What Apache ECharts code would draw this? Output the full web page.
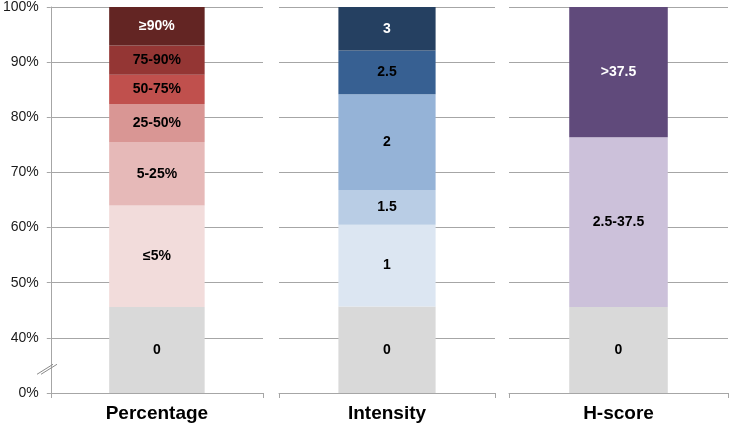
<!DOCTYPE html>
<html>
<head>
<meta charset="utf-8">
<script src="https://cdn.jsdelivr.net/npm/echarts@6/dist/echarts.min.js"></script>
<style>
html,body{margin:0;padding:0;background:#fff;}
#chart{width:729px;height:428px;}
</style>
</head>
<body>
<div id="chart"></div>
<script>
// ---- data ----
const panelTitles = ['Percentage', 'Intensity', 'H-score'];

const percentageLabels = ['0', '≤5%', '5-25%', '25-50%', '50-75%', '75-90%', '≥90%'];
const percentageValues = [45.6, 18.4, 11.5, 6.9, 5.3, 5.3, 7.0];

const intensityLabels = ['0', '1', '1.5', '2', '2.5', '3'];
const intensityValues = [45.7, 14.8, 6.3, 17.4, 7.9, 7.9];

const hscoreLabels = ['0', '2.5-37.5', '>37.5'];
const hscoreValues = [45.6, 30.8, 23.6];

// y axis: 0% followed by a break, then 40%..100%
const yTickValues = [30, 40, 50, 60, 70, 80, 90, 100];
const yTickLabels = ['0%', '40%', '50%', '60%', '70%', '80%', '90%', '100%'];

// ---- styles ----
const percentageColors = ['#d9d9d9', '#f2dcdb', '#e6b9b8', '#d99694', '#c0504d', '#943634', '#632523'];
const intensityColors = ['#d9d9d9', '#dce6f2', '#b9cde5', '#95b3d7', '#376092', '#254061'];
const hscoreColors = ['#d9d9d9', '#ccc1da', '#604a7b'];
const percentageTextColors = ['#000', '#000', '#000', '#000', '#000', '#000', '#fff'];
const intensityTextColors = ['#000', '#000', '#000', '#000', '#000', '#fff'];
const hscoreTextColors = ['#000', '#000', '#fff'];

const panels = [
  { labels: percentageLabels, values: percentageValues, colors: percentageColors, text: percentageTextColors },
  { labels: intensityLabels, values: intensityValues, colors: intensityColors, text: intensityTextColors },
  { labels: hscoreLabels, values: hscoreValues, colors: hscoreColors, text: hscoreTextColors }
];

const gridLefts = [48, 279, 509];
const gridWidths = [215, 216, 219];
const FONT = '"Liberation Sans", Arial, sans-serif';
const lineColor = '#a6a6a6';

const chart = echarts.init(document.getElementById('chart'), null, { renderer: 'canvas' });

const grids = [], xAxes = [], yAxes = [], series = [];
panels.forEach((p, i) => {
  grids.push({ left: gridLefts[i], width: gridWidths[i], top: 7, height: 386, containLabel: false });
  xAxes.push({
    type: 'category', gridIndex: i, data: [panelTitles[i]],
    axisLine: { show: true, lineStyle: { color: lineColor, width: 1 } },
    axisTick: { show: true, length: 5, lineStyle: { color: lineColor } },
    axisLabel: { margin: 11, fontFamily: FONT, fontSize: 19, fontWeight: 'bold', color: '#000' }
  });
  yAxes.push({
    type: 'value', gridIndex: i, min: 30, max: 100, interval: 10,
    axisLine: { show: i === 0, lineStyle: { color: lineColor } },
    axisTick: { show: i === 0, length: 4, lineStyle: { color: lineColor } },
    axisLabel: {
      show: i === 0, margin: 12, fontFamily: FONT, fontSize: 14, color: '#1a1a1a',
      formatter: v => yTickLabels[yTickValues.indexOf(v)]
    },
    splitLine: { show: true, lineStyle: { color: lineColor, width: 1 } }
  });
  p.values.forEach((v, j) => {
    series.push({
      type: 'bar', name: p.labels[j], stack: 'panel' + i,
      xAxisIndex: i, yAxisIndex: i, data: [v],
      barWidth: '45%', clip: true,
      itemStyle: { color: p.colors[j] },
      label: {
        show: true, position: 'inside', formatter: p.labels[j],
        fontFamily: FONT, fontSize: 14, fontWeight: 'bold', color: p.text[j]
      },
      emphasis: { disabled: true },
      silent: true
    });
  });
});

chart.setOption({
  animation: false,
  backgroundColor: '#fff',
  grid: grids, xAxis: xAxes, yAxis: yAxes, series: series
});

// axis-break marks on the first y axis, placed via the axis scale
const by = chart.convertToPixel({ yAxisIndex: 0 }, 34.3);
const bx = gridLefts[0];
chart.setOption({
  graphic: [-2, 2].map(off => ({
    type: 'line', silent: true, z: 100,
    shape: { x1: bx - 9 + off, y1: by + 5, x2: bx + 7 + off, y2: by - 5 },
    style: { stroke: '#8a8a8a', lineWidth: 1 }
  }))
});
</script>
</body>
</html>
